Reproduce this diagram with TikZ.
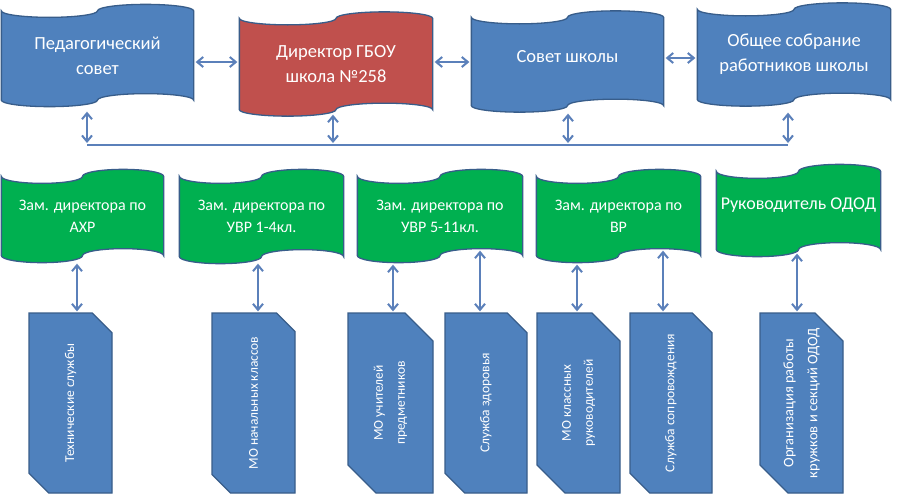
\documentclass[tikz,border=0pt]{standalone}
\usepackage{fontspec}
\setmainfont{Carlito}
\usetikzlibrary{arrows.meta,shapes.misc,calc}
\definecolor{tapeblue}{HTML}{4F81BD}
\definecolor{tapered}{HTML}{C0504D}
\definecolor{tapegreen}{HTML}{00B050}
\definecolor{edgeblue}{HTML}{385D8A}
\definecolor{linkblue}{HTML}{5B80BA}
\makeatletter
\pgfkeys{/pgf/punch bend/.initial=6pt}
\tikzset{punch bend/.code={\pgfkeyssetvalue{/pgf/punch bend}{#1}}}
\pgfdeclareshape{punchtape}{%
  \inheritsavedanchors[from=rectangle]%
  \inheritanchorborder[from=rectangle]%
  \inheritanchor[from=rectangle]{center}%
  \inheritanchor[from=rectangle]{text}%
  \inheritanchor[from=rectangle]{base}%
  \inheritanchor[from=rectangle]{mid}%
  \inheritanchor[from=rectangle]{north}%
  \inheritanchor[from=rectangle]{south}%
  \inheritanchor[from=rectangle]{east}%
  \inheritanchor[from=rectangle]{west}%
  \inheritanchor[from=rectangle]{north east}%
  \inheritanchor[from=rectangle]{north west}%
  \inheritanchor[from=rectangle]{south east}%
  \inheritanchor[from=rectangle]{south west}%
  \backgroundpath{%
    \southwest \edef\pt@xa{\the\pgf@x}\edef\pt@ya{\the\pgf@y}%
    \northeast \edef\pt@xb{\the\pgf@x}\edef\pt@yb{\the\pgf@y}%
    \pgfmathsetmacro\pt@q{(\pt@xb-\pt@xa)/4}%
    \pgfmathsetmacro\pt@b{\pgfkeysvalueof{/pgf/punch bend}}%
    \pgfpathmoveto{\pgfpoint{\pt@xa}{\pt@yb}}%
    \pgfpatharc{180}{360}{\pt@q pt and \pt@b pt}%
    \pgfpatharc{180}{0}{\pt@q pt and \pt@b pt}%
    \pgfpathlineto{\pgfpoint{\pt@xb}{\pt@ya}}%
    \pgfpatharc{0}{180}{\pt@q pt and \pt@b pt}%
    \pgfpatharc{0}{-180}{\pt@q pt and \pt@b pt}%
    \pgfpathclose
  }%
}
\makeatother
\pgfdeclarelayer{background}
\pgfsetlayers{background,main}
\begin{document}
\begin{tikzpicture}[x=1pt,y=-1pt,
  tapebox/.style={shape=punchtape, draw=edgeblue, line width=1.3pt, inner sep=0pt, text=white, align=center},
  toptape/.style={tapebox, fill=tapeblue, font=\fontsize{18.5}{25}\selectfont, punch bend=6.5pt},
  redtape/.style={toptape, fill=tapered},
  greentape/.style={tapebox, fill=tapegreen, font=\fontsize{16}{22}\selectfont, punch bend=7pt},
  unitbox/.style={chamfered rectangle, chamfered rectangle corners={south east, north west},
    chamfered rectangle xsep=14pt, chamfered rectangle ysep=14pt, rotate=90,
    draw=edgeblue, line width=1.3pt, fill=tapeblue, text=white, align=center, inner sep=0pt,
    minimum width=180pt, font=\fontsize{13.5}{22}\selectfont},
  link/.style={draw=linkblue, line width=2pt},
  dar/.style={link, {Straight Barb[length=6pt,width=10pt]}-{Straight Barb[length=6pt,width=10pt]}},
  uar/.style={link, -{Straight Barb[length=6pt,width=10pt]}},
]
\useasboundingbox[fill=white] (0,0) rectangle (900,496);

% top row
\node[toptape, minimum width=191pt, minimum height=88pt] (ped) at (97.5,55.5) {Педагогический\\совет};
\node[redtape, minimum width=192pt, minimum height=90pt] (dir) at (336,64) {Директор ГБОУ\\школа №258};
\node[toptape, minimum width=191pt, minimum height=87pt, text depth=11pt] (sov) at (567.5,61.5) {Совет школы};
\node[toptape, minimum width=192pt, minimum height=89pt] (obs) at (794,54.5) {Общее собрание\\работников школы};

% middle row
\node[greentape, minimum width=161pt, minimum height=78pt] (g1) at (82.5,216) {Зам. директора по\\АХР};
\node[greentape, minimum width=163pt, minimum height=79pt] (g2) at (261.5,216.5) {Зам. директора по\\УВР 1-4кл.};
\node[greentape, minimum width=164pt, minimum height=78pt] (g3) at (440,216) {Зам. директора по\\УВР 5-11кл.};
\node[greentape, minimum width=163pt, minimum height=78pt] (g4) at (618.5,216) {Зам. директора по\\ВР};
\node[greentape, minimum width=163pt, minimum height=77pt, font=\fontsize{18}{22}\selectfont, text depth=14pt] (g5) at (798.5,210.5) {Руководитель ОДОД};

% bottom row
\node[unitbox, minimum height=83pt] (b1) at (70.5,403) {Технические службы};
\node[unitbox, minimum height=83pt] (b2) at (253.5,403) {МО начальных классов};
\node[unitbox, minimum height=85pt] (b3) at (390.5,403) {МО учителей\\предметников};
\node[unitbox, minimum height=82pt] (b4) at (486,403) {Служба здоровья};
\node[unitbox, minimum height=83pt] (b5) at (578.5,403) {МО классных\\руководителей};
\node[unitbox, minimum height=82pt] (b6) at (671,403) {Служба сопровождения};
\node[unitbox, minimum height=83pt, font=\fontsize{14.5}{24}\selectfont] (b7) at (801.5,403) {Организация работы\\кружков и секций ОДОД};

% bus
\coordinate (j1) at (87,145);
\coordinate (j2) at (333,145);
\coordinate (j3) at (568,145);
\coordinate (j4) at (788,145);
\draw[link] (j1) -- (j4);

% top boxes to bus
\draw[dar, shorten >=2pt] ($(j1 |- ped.south)+(0,11.5)$) -- (j1);
\draw[dar, shorten >=2pt] ($(j2 |- dir.south)+(0,5)$) -- (j2);
\draw[dar, shorten >=2pt] ($(j3 |- sov.south)+(0,8)$) -- (j3);
\draw[dar, shorten >=2pt] ($(j4 |- obs.south)+(0,13)$) -- (j4);

% green boxes up to bus
\begin{pgfonlayer}{background}
\draw[uar, shorten >=2pt] (j1 |- g1.center) -- (j1);
\draw[uar, shorten >=2pt] (j2 |- g2.center) -- (j2);
\draw[uar, shorten >=2pt] (j3 |- g4.center) -- (j3);
\draw[uar, shorten >=2pt] (j4 |- g5.center) -- (j4);
\end{pgfonlayer}

% top row horizontal links
\draw[dar, shorten <=2pt, shorten >=2pt] (ped.east |- 0,62) -- (dir.west |- 0,62);
\draw[dar, shorten <=2pt, shorten >=2pt] (dir.east |- 0,62) -- (sov.west |- 0,62);
\draw[dar, shorten <=2pt, shorten >=2pt] (sov.east |- 0,58) -- (obs.west |- 0,58);

% green boxes down to units
\draw[dar, shorten >=1pt] ($(g1.south -| 77,0)+(0,8)$) -- (b1.east -| 77,0);
\draw[dar, shorten >=1pt] ($(g2.south -| 258,0)+(0,7)$) -- (b2.east -| 258,0);
\draw[dar, shorten >=1pt] ($(g3.south -| 393,0)+(0,9)$) -- (b3.east -| 393,0);
\draw[dar, shorten >=1pt] ($(g3.south -| 480,0)+(0,-5)$) -- (b4.east -| 480,0);
\draw[dar, shorten >=1pt] ($(g4.south -| 577,0)+(0,9)$) -- (b5.east -| 577,0);
\draw[dar, shorten >=1pt] ($(g4.south -| 663,0)+(0,-5)$) -- (b6.east -| 663,0);
\draw[dar, shorten >=1pt] ($(g5.south -| 797,0)+(0,4)$) -- (b7.east -| 797,0);
\end{tikzpicture}
\end{document}
